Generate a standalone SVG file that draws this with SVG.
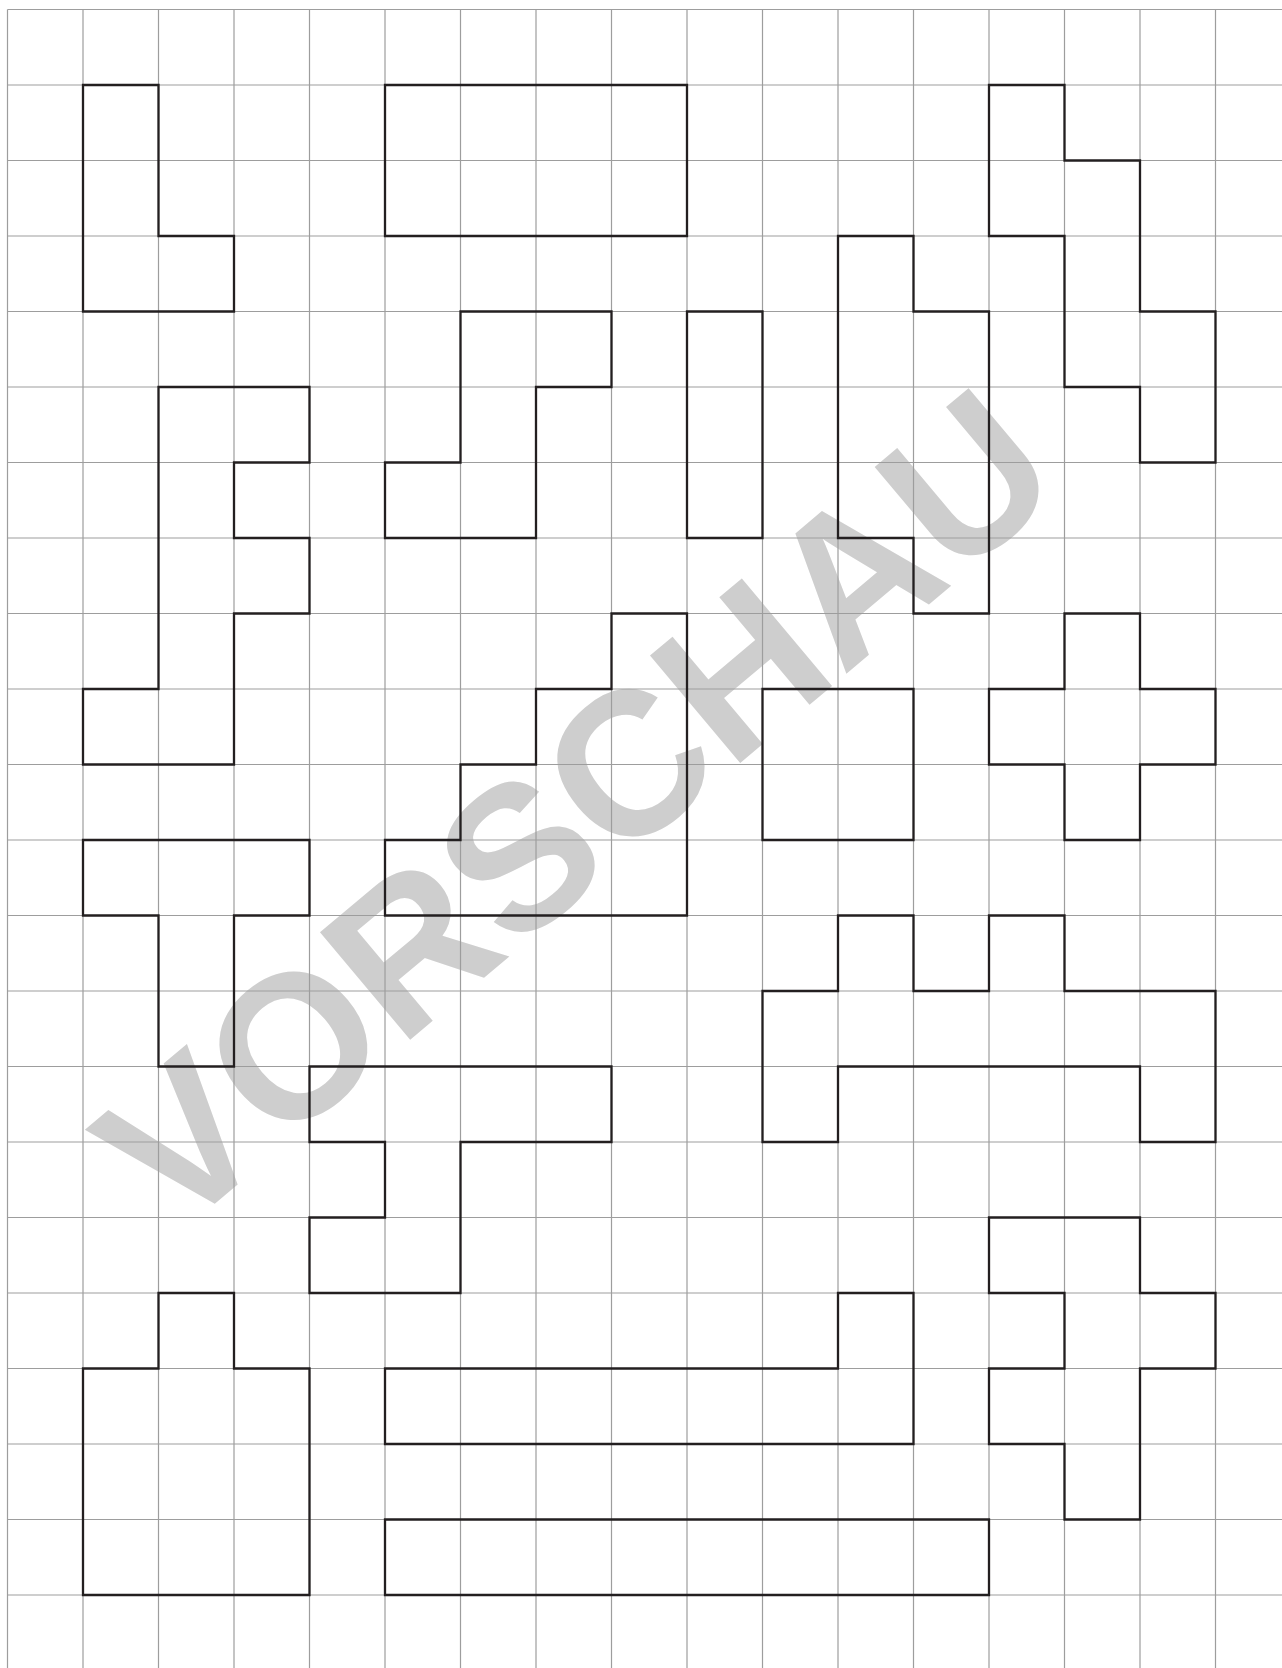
<svg xmlns="http://www.w3.org/2000/svg" width="1282" height="1668" viewBox="0 0 1282 1668">
<style>
.grid{fill:none;stroke:#9d9d9d;stroke-width:1.2}
.shape{fill:none;stroke:#231f20;stroke-width:2.3;stroke-linejoin:miter}
.wm{fill:#cecece;font-family:"Liberation Sans",Arial,sans-serif;font-weight:bold;font-size:204px}
</style>
<rect width="1282" height="1668" fill="#ffffff"/>
<text id="watermark" class="wm" x="174" y="1238" transform="rotate(-40 174 1238)">VORSCHAU</text>
<g id="grid" class="grid">
<path d="M7.5 9.5V1668M83 9.5V1668M158.5 9.5V1668M234 9.5V1668M309.5 9.5V1668M385 9.5V1668M460.5 9.5V1668M536 9.5V1668M611.5 9.5V1668M687 9.5V1668M762.5 9.5V1668M838 9.5V1668M913.5 9.5V1668M989 9.5V1668M1064.5 9.5V1668M1140 9.5V1668M1215.5 9.5V1668"/>
<path d="M7.5 9.5H1282M7.5 85H1282M7.5 160.5H1282M7.5 236H1282M7.5 311.5H1282M7.5 387H1282M7.5 462.5H1282M7.5 538H1282M7.5 613.5H1282M7.5 689H1282M7.5 764.5H1282M7.5 840H1282M7.5 915.5H1282M7.5 991H1282M7.5 1066.5H1282M7.5 1142H1282M7.5 1217.5H1282M7.5 1293H1282M7.5 1368.5H1282M7.5 1444H1282M7.5 1519.5H1282M7.5 1595H1282"/>
</g>
<g id="connectors"></g>
<g id="shape1" class="shape"><polygon points="83,85 158.5,85 158.5,236 234,236 234,311.5 83,311.5"/></g>
<g id="shape2" class="shape"><polygon points="385,85 687,85 687,236 385,236"/></g>
<g id="shape3" class="shape"><polygon points="989,85 1064.5,85 1064.5,160.5 1140,160.5 1140,311.5 1215.5,311.5 1215.5,462.5 1140,462.5 1140,387 1064.5,387 1064.5,236 989,236"/></g>
<g id="shape4" class="shape"><polygon points="158.5,387 309.5,387 309.5,462.5 234,462.5 234,538 309.5,538 309.5,613.5 234,613.5 234,764.5 83,764.5 83,689 158.5,689"/></g>
<g id="shape5" class="shape"><polygon points="460.5,311.5 611.5,311.5 611.5,387 536,387 536,538 385,538 385,462.5 460.5,462.5"/></g>
<g id="shape6" class="shape"><polygon points="687,311.5 762.5,311.5 762.5,538 687,538"/></g>
<g id="shape7" class="shape"><polygon points="838,236 913.5,236 913.5,311.5 989,311.5 989,613.5 913.5,613.5 913.5,538 838,538"/></g>
<g id="shape8" class="shape"><polygon points="611.5,613.5 687,613.5 687,915.5 385,915.5 385,840 460.5,840 460.5,764.5 536,764.5 536,689 611.5,689"/></g>
<g id="shape9" class="shape"><polygon points="762.5,689 913.5,689 913.5,840 762.5,840"/></g>
<g id="shape10" class="shape"><polygon points="1064.5,613.5 1140,613.5 1140,689 1215.5,689 1215.5,764.5 1140,764.5 1140,840 1064.5,840 1064.5,764.5 989,764.5 989,689 1064.5,689"/></g>
<g id="shape11" class="shape"><polygon points="83,840 309.5,840 309.5,915.5 234,915.5 234,1066.5 158.5,1066.5 158.5,915.5 83,915.5"/></g>
<g id="shape12" class="shape"><polygon points="838,915.5 913.5,915.5 913.5,991 989,991 989,915.5 1064.5,915.5 1064.5,991 1215.5,991 1215.5,1142 1140,1142 1140,1066.5 838,1066.5 838,1142 762.5,1142 762.5,991 838,991"/></g>
<g id="shape13" class="shape"><polygon points="309.5,1066.5 611.5,1066.5 611.5,1142 460.5,1142 460.5,1293 309.5,1293 309.5,1217.5 385,1217.5 385,1142 309.5,1142"/></g>
<g id="shape14" class="shape"><polygon points="158.5,1293 234,1293 234,1368.5 309.5,1368.5 309.5,1595 83,1595 83,1368.5 158.5,1368.5"/></g>
<g id="shape15" class="shape"><polygon points="385,1368.5 838,1368.5 838,1293 913.5,1293 913.5,1444 385,1444"/></g>
<g id="shape16" class="shape"><polygon points="989,1217.5 1140,1217.5 1140,1293 1215.5,1293 1215.5,1368.5 1140,1368.5 1140,1519.5 1064.5,1519.5 1064.5,1444 989,1444 989,1368.5 1064.5,1368.5 1064.5,1293 989,1293"/></g>
<g id="shape17" class="shape"><polygon points="385,1519.5 989,1519.5 989,1595 385,1595"/></g>
</svg>
